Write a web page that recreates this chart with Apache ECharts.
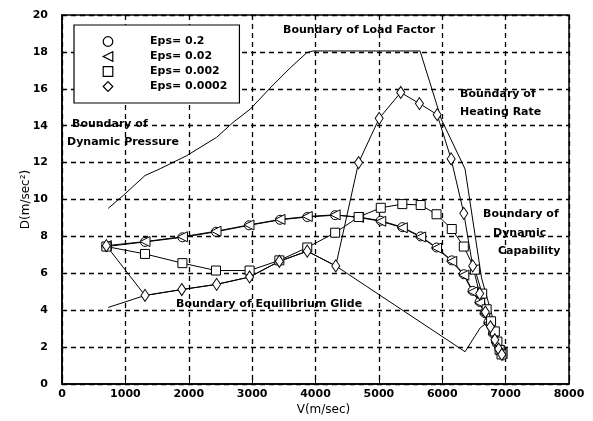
<!DOCTYPE html>
<html>
<head>
<meta charset="utf-8">
<script src="https://cdn.jsdelivr.net/npm/echarts@6/dist/echarts.min.js"></script>
<style>
  html, body { margin: 0; padding: 0; background: #fff; }
  #chart { width: 593px; height: 421px; }
</style>
</head>
<body>
<div id="chart"></div>
<script>
// Velocity (m/sec) and drag acceleration D (m/sec^2) along each trajectory
const vEps02 = [700, 1310, 1900, 2430, 2950, 3440, 3870, 4310, 4680, 5030, 5370, 5660, 5910, 6150, 6340, 6480, 6590, 6670, 6730, 6800, 6850, 6910, 6940];
const dEps02 = [7.45, 7.70, 7.95, 8.25, 8.60, 8.90, 9.05, 9.15, 9.05, 8.85, 8.50, 8.00, 7.40, 6.70, 5.95, 5.05, 4.45, 3.85, 3.35, 2.75, 2.30, 1.85, 1.70];

const vEps002 = [700, 1310, 1900, 2430, 2950, 3440, 3870, 4310, 4680, 5030, 5370, 5660, 5910, 6150, 6340, 6480, 6590, 6670, 6730, 6800, 6850, 6910, 6945];
const dEps002 = [7.50, 7.72, 7.98, 8.28, 8.62, 8.92, 9.08, 9.17, 9.03, 8.82, 8.47, 7.97, 7.37, 6.65, 5.90, 5.00, 4.40, 3.80, 3.30, 2.70, 2.25, 1.80, 1.65];

const vEps0002 = [700, 1310, 1900, 2430, 2960, 3430, 3870, 4310, 4680, 5030, 5370, 5660, 5910, 6150, 6340, 6515, 6630, 6700, 6770, 6830, 6870, 6905, 6935];
const dEps0002 = [7.45, 7.05, 6.55, 6.15, 6.15, 6.70, 7.40, 8.20, 9.05, 9.55, 9.75, 9.70, 9.20, 8.40, 7.45, 6.20, 4.90, 4.05, 3.40, 2.85, 2.30, 1.85, 1.60];

const vEps00002 = [700, 1310, 1890, 2440, 2960, 3430, 3870, 4320, 4680, 5005, 5345, 5640, 5920, 6140, 6340, 6480, 6590, 6680, 6760, 6830, 6890, 6940];
const dEps00002 = [7.50, 4.80, 5.12, 5.40, 5.80, 6.65, 7.20, 6.40, 12.00, 14.40, 15.80, 15.20, 14.60, 12.20, 9.25, 6.40, 4.90, 3.90, 3.10, 2.40, 1.90, 1.60];

// Upper boundary: dynamic pressure -> load factor -> heating rate -> dynamic capability
const vUpper = [730, 970, 1310, 1550, 1970, 2440, 2700, 2970, 3300, 3600, 3860, 3960, 5650, 5985, 6360, 6620, 6780, 6960];
const dUpper = [9.52, 10.23, 11.30, 11.67, 12.38, 13.37, 14.18, 14.90, 16.10, 17.13, 17.95, 18.05, 18.05, 14.35, 11.65, 5.75, 3.78, 1.27];

// Lower boundary: equilibrium glide
const vGlide = [730, 1310, 1890, 2440, 2960, 3430, 3870, 4320, 6360, 6600, 6700, 6800, 6900];
const dGlide = [4.15, 4.80, 5.12, 5.40, 5.80, 6.65, 7.20, 6.40, 1.75, 3.05, 3.30, 2.70, 1.90];

const legendNames = ['Eps= 0.2', 'Eps= 0.02', 'Eps= 0.002', 'Eps= 0.0002'];
const xTicks = { min: 0, max: 8000, step: 1000 };
const yTicks = { min: 0, max: 20, step: 2 };

const zip = (xs, ys) => xs.map((x, i) => [x, ys[i]]);

const font = 'DejaVu Sans';
const markerStyle = { color: '#fff', borderColor: '#000', borderWidth: 1 };
const traceLine = { color: '#000', width: 1 };

function trace(name, xs, ys, symbol, size, rotate) {
  return {
    name: name,
    type: 'line',
    data: zip(xs, ys),
    symbol: symbol,
    symbolSize: size,
    symbolRotate: rotate || 0,
    showAllSymbol: true,
    lineStyle: traceLine,
    itemStyle: markerStyle,
    z: 3
  };
}

function boundary(xs, ys) {
  return {
    type: 'line',
    data: zip(xs, ys),
    showSymbol: false,
    symbol: 'none',
    lineStyle: { color: '#000', width: 1 },
    silent: true,
    z: 2
  };
}

const gridLine = { show: true, lineStyle: { color: '#000', type: [5, 4], width: 1.3 } };
const axisLine = { show: true, lineStyle: { color: '#000', width: 1.5 } };
const tickLabel = { color: '#000', fontFamily: font, fontWeight: 'bold', fontSize: 11, formatter: v => String(v) };

function note(text, x, y) {
  return {
    type: 'text', left: x, top: y - 7,
    style: { text: text, fill: '#000', font: 'bold 11px "DejaVu Sans"' },
    z: 10
  };
}

const chart = echarts.init(document.getElementById('chart'), null, { renderer: 'canvas' });
chart.setOption({
  animation: false,
  backgroundColor: '#fff',
  grid: { left: 62, right: 24, top: 15, bottom: 34, show: true, borderColor: '#000', borderWidth: 1.5 },
  xAxis: {
    type: 'value', min: xTicks.min, max: xTicks.max, interval: xTicks.step,
    name: 'V(m/sec)', nameLocation: 'middle', nameGap: 20, nameMoveOverlap: false,
    nameTextStyle: { color: '#000', fontFamily: font, fontSize: 12, padding: [0, 0, 0, 16] },
    axisLine: axisLine,
    axisTick: { show: true, inside: true, length: 4, lineStyle: { color: '#000' } },
    axisLabel: Object.assign({ margin: 5 }, tickLabel),
    splitLine: gridLine
  },
  yAxis: {
    type: 'value', min: yTicks.min, max: yTicks.max, interval: yTicks.step,
    name: 'D(m/sec²)', nameLocation: 'middle', nameGap: 30, nameMoveOverlap: false,
    nameTextStyle: { color: '#000', fontFamily: font, fontSize: 12 },
    axisLine: axisLine,
    axisTick: { show: true, inside: true, length: 4, lineStyle: { color: '#000' } },
    axisLabel: Object.assign({ margin: 14 }, tickLabel),
    splitLine: gridLine
  },
  legend: {
    data: legendNames,
    orient: 'vertical',
    left: 74, top: 25,
    itemWidth: 60, itemHeight: 12, itemGap: 4,
    padding: [11, 12, 11, 3],
    borderColor: '#000', borderWidth: 1.2,
    backgroundColor: '#fff',
    lineStyle: { opacity: 0 },
    itemStyle: { borderWidth: 1.2 },
    textStyle: { color: '#000', fontFamily: font, fontWeight: 'bold', fontSize: 11, padding: [0, 0, 0, 7] },
    z: 20
  },
  graphic: [
    note('Boundary of Load Factor', 283, 32),
    note('Boundary of', 72, 126),
    note('Dynamic Pressure', 67, 144),
    note('Boundary of', 460, 96),
    note('Heating Rate', 460, 114),
    note('Boundary of', 483, 216),
    note('Dynamic', 493, 235),
    note('Capability', 498, 253),
    note('Boundary of Equilibrium Glide', 176, 306)
  ],
  series: [
    boundary(vUpper, dUpper),
    boundary(vGlide, dGlide),
    trace(legendNames[0], vEps02, dEps02, 'circle', 9),
    trace(legendNames[1], vEps002, dEps002, 'triangle', 10, 90),
    trace(legendNames[2], vEps0002, dEps0002, 'rect', 9),
    trace(legendNames[3], vEps00002, dEps00002, 'diamond', [8, 12])
  ]
});
</script>
</body>
</html>
